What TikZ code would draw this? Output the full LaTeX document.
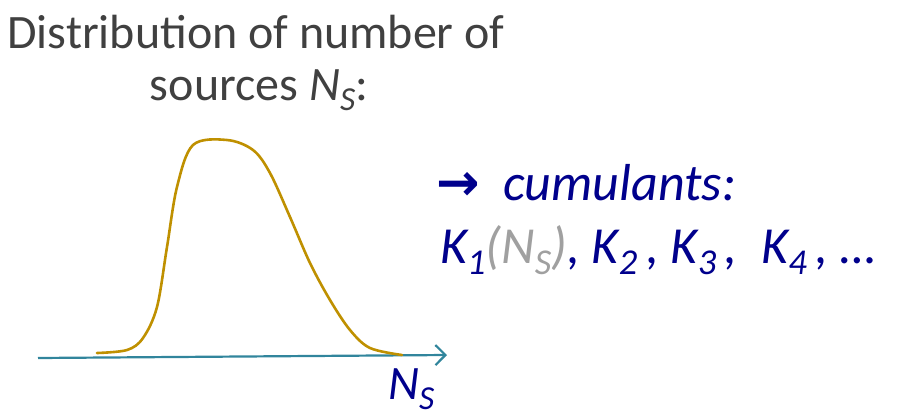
\documentclass[tikz,border=0pt]{standalone}
\usepackage{fontspec}
\setmainfont{Carlito}
\newfontfamily\symfont{DejaVu Sans}
\usetikzlibrary{arrows.meta}
\definecolor{txtgray}{HTML}{404040}
\definecolor{navy}{RGB}{0,0,140}
\definecolor{lightgray}{HTML}{A0A0A0}
\definecolor{axisteal}{HTML}{31859C}
\definecolor{curvegold}{HTML}{BF9000}
\newcommand{\mysub}[1]{\raisebox{-0.22em}{\scalebox{0.7}{#1}}}
\tikzset{
  titletext/.style={text=txtgray, font=\fontsize{48}{56}\selectfont, inner sep=0pt},
  bluetext/.style={text=navy, font=\fontsize{52}{60}\selectfont\itshape, inner sep=0pt},
  axisline/.style={draw=axisteal, line width=2.2pt, -{Straight Barb[length=10pt,width=20pt,line width=2.2pt]}},
  distcurve/.style={draw=curvegold, line width=2.6pt, line cap=round}
}
\begin{document}
\begin{tikzpicture}[x=1pt,y=-1pt]
\useasboundingbox (0,0) rectangle (898,418);
\node[titletext, anchor=base] (t1) at (256,48) {Distribution of number of};
\node[titletext, anchor=base] (t2) at (259,100) {sources \textit{N}\mysub{\textit{S}}:};
\coordinate (axstart) at (38,358);
\coordinate (axend) at (447,355);
\draw[axisline] (axstart) -- (axend);
\draw[distcurve] plot[smooth, tension=0.55] coordinates {(97,353) (127,350) (143,338) (157,307) (167,247) (177,187) (193,145) (227,140) (253,150) (270,173) (290,217) (310,263) (330,300) (350,330) (370,348) (402,355)};
\node[bluetext, anchor=base west, font=\fontsize{48}{56}\selectfont\itshape] (nsl) at (388,399) {N\mysub{S}};
\node[bluetext, anchor=base west] (cum) at (436,200) {{\symfont\bfseries\upshape →}\ \ cumulants:};
\node[bluetext, anchor=base west] (kl) at (440,263) {K\mysub{1}{\color{lightgray}(N\mysub{S})}, K\mysub{2}\,, K\mysub{3}\,,\ \ K\mysub{4}\,, …};
\end{tikzpicture}
\end{document}
